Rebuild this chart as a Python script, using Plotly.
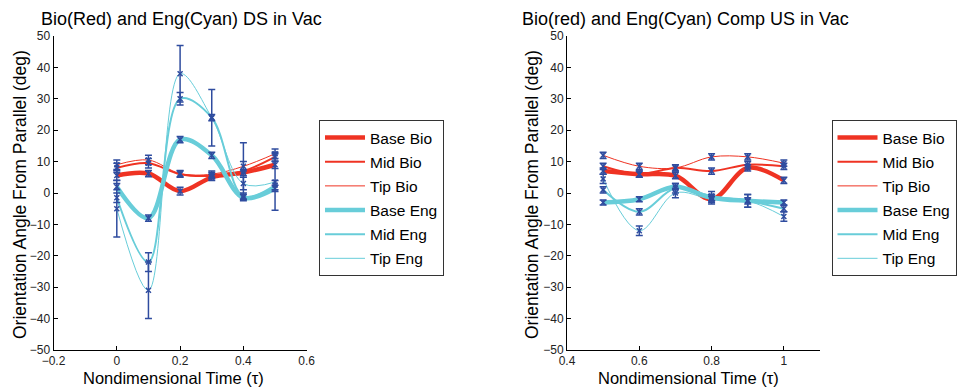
import plotly.graph_objects as go

# ---------------- data ----------------
series_names = ["Base Bio", "Mid Bio", "Tip Bio", "Base Eng", "Mid Eng", "Tip Eng"]

tau_ds = [0, 0.1, 0.2, 0.3, 0.4, 0.5]
ds_base_bio = [5.6, 6.2, 0.6, 5.0, 6.5, 9.0]
ds_mid_bio = [8.0, 9.5, 6.0, 5.5, 7.0, 11.5]
ds_tip_bio = [9.0, 10.5, 6.2, 6.0, 8.5, 12.5]
ds_base_eng = [2.0, -8.0, 17.0, 12.0, -1.5, 1.5]
ds_mid_eng = [-1.5, -22.0, 30.0, 24.0, -1.0, 2.5]
ds_tip_eng = [-5.0, -31.0, 38.0, 24.0, 3.0, 3.5]

ds_err_base_bio = [1.5, 1.0, 1.2, 1.0, 1.0, 1.2]
ds_err_mid_bio = [1.5, 1.5, 1.0, 1.0, 9.0, 1.5]
ds_err_tip_bio = [1.5, 1.5, 1.0, 1.0, 1.5, 1.5]
ds_err_base_eng = [1.0, 1.0, 1.0, 1.0, 1.0, 1.0]
ds_err_mid_eng = [1.5, 3.0, 2.0, 1.0, 1.0, 1.5]
ds_err_tip_eng = [9.0, 9.0, 9.0, 9.0, 2.0, 9.0]

tau_us = [0.5, 0.6, 0.7, 0.8, 0.9, 1.0]
us_base_bio = [7.0, 6.0, 5.5, -2.0, 8.0, 4.0]
us_mid_bio = [8.5, 6.0, 8.0, 7.0, 9.0, 8.5]
us_tip_bio = [12.0, 8.5, 8.0, 11.5, 11.5, 9.5]
us_base_eng = [-3.0, -2.0, 2.0, -1.5, -2.5, -3.0]
us_mid_eng = [1.0, -6.0, 1.5, -1.0, -2.5, -5.0]
us_tip_eng = [4.5, -12.0, 0.0, -2.0, -2.5, -7.5]

us_err_base_bio = [1.0, 1.0, 1.0, 1.0, 1.0, 1.0]
us_err_mid_bio = [1.0, 1.0, 1.0, 1.0, 1.0, 1.0]
us_err_tip_bio = [1.0, 1.0, 1.0, 1.0, 1.0, 1.0]
us_err_base_eng = [0.8, 0.8, 1.0, 1.0, 1.0, 0.8]
us_err_mid_eng = [1.0, 1.0, 1.5, 1.5, 2.0, 1.0]
us_err_tip_eng = [1.5, 1.5, 1.5, 1.5, 2.0, 1.5]

y_ticks = [-50, -40, -30, -20, -10, 0, 10, 20, 30, 40, 50]
x_ticks_ds = [-0.2, 0, 0.2, 0.4, 0.6]
x_ticks_us = [0.4, 0.6, 0.8, 1.0]

# ---------------- style ----------------
RED = "#ef3323"
CYAN = "#68cdd9"
BLUE = "#2f4c9f"
widths = [4.5, 2.0, 1.0, 4.5, 2.0, 1.0]
colors = [RED, RED, RED, CYAN, CYAN, CYAN]
FONT = "Liberation Sans, Arial, sans-serif"

W, H = 957, 389


def px(x):
    return x / W


def py(y):
    return 1 - y / H


fig = go.Figure()

panels = [
    ("x", "y", "legend", tau_ds,
     [ds_base_bio, ds_mid_bio, ds_tip_bio, ds_base_eng, ds_mid_eng, ds_tip_eng],
     [ds_err_base_bio, ds_err_mid_bio, ds_err_tip_bio, ds_err_base_eng, ds_err_mid_eng, ds_err_tip_eng]),
    ("x2", "y2", "legend2", tau_us,
     [us_base_bio, us_mid_bio, us_tip_bio, us_base_eng, us_mid_eng, us_tip_eng],
     [us_err_base_bio, us_err_mid_bio, us_err_tip_bio, us_err_base_eng, us_err_mid_eng, us_err_tip_eng]),
]

for xa, ya, leg, tau, ys, errs in panels:
    for i, (name, yv) in enumerate(zip(series_names, ys)):
        fig.add_trace(go.Scatter(
            x=tau, y=yv, mode="lines", name=name,
            line=dict(color=colors[i], width=widths[i], shape="spline", smoothing=1.0),
            xaxis=xa, yaxis=ya, legend=leg, legendgroup=leg + name,
            showlegend=True,
        ))
    for i, (yv, ev) in enumerate(zip(ys, errs)):
        fig.add_trace(go.Scatter(
            x=tau, y=yv, mode="markers", showlegend=False,
            marker=dict(symbol="x-thin", size=5, color=BLUE,
                        line=dict(color=BLUE, width=1.5)),
            error_y=dict(type="data", array=ev, visible=True, color=BLUE,
                         thickness=1.5, width=3.5),
            xaxis=xa, yaxis=ya,
        ))

axis_common = dict(
    showgrid=False, zeroline=False, showline=True, linecolor="black", linewidth=1,
    ticks="inside", ticklen=4, tickcolor="black",
    tickfont=dict(family=FONT, size=12, color="#222"),
    mirror=False,
)

ydom = [py(350), py(36)]

legend_common = dict(
    xanchor="left", yanchor="top",
    bgcolor="white", bordercolor="#333", borderwidth=1,
    font=dict(family=FONT, size=15.5, color="black"),
    itemwidth=40, tracegroupgap=1, traceorder="grouped",
)

fig.update_layout(
    width=W, height=H,
    template="none",
    paper_bgcolor="white", plot_bgcolor="white",
    margin=dict(l=0, r=0, t=0, b=0, autoexpand=False),
    font=dict(family=FONT, color="black"),
    xaxis=dict(domain=[px(53.5), px(306.7)], range=[-0.2, 0.6], tickvals=x_ticks_ds,
               anchor="y", **axis_common),
    yaxis=dict(domain=ydom, range=[-50, 50], tickvals=y_ticks, anchor="x", **axis_common),
    xaxis2=dict(domain=[px(567), px(820)], range=[0.4, 1.1], tickvals=x_ticks_us,
                anchor="y2", **axis_common),
    yaxis2=dict(domain=ydom, range=[-50, 50], tickvals=y_ticks, anchor="x2", **axis_common),
    legend=dict(x=px(319), y=py(120), **legend_common),
    legend2=dict(x=px(831.5), y=py(120), **legend_common),
)

annotations = [
    dict(text="Bio(Red) and Eng(Cyan) DS in Vac", x=px(39), y=py(19), xanchor="left",
         yanchor="middle", font=dict(size=18)),
    dict(text="Bio(red) and Eng(Cyan) Comp US in Vac", x=px(520), y=py(19), xanchor="left",
         yanchor="middle", font=dict(size=18)),
    dict(text="Nondimensional Time (τ)", x=px(173), y=py(378), xanchor="center",
         yanchor="middle", font=dict(size=16.5)),
    dict(text="Nondimensional Time (τ)", x=px(688), y=py(378), xanchor="center",
         yanchor="middle", font=dict(size=16.5)),
    dict(text="Orientation Angle From Parallel (deg)", x=px(20), y=py(195), textangle=-90,
         xanchor="center", yanchor="middle", font=dict(size=17.5)),
    dict(text="Orientation Angle From Parallel (deg)", x=px(532), y=py(195), textangle=-90,
         xanchor="center", yanchor="middle", font=dict(size=17.5)),
]
for a in annotations:
    a.update(xref="paper", yref="paper", showarrow=False)
    a["font"].update(family=FONT, color="black")
fig.update_layout(annotations=annotations)

fig.write_html("out.html")
